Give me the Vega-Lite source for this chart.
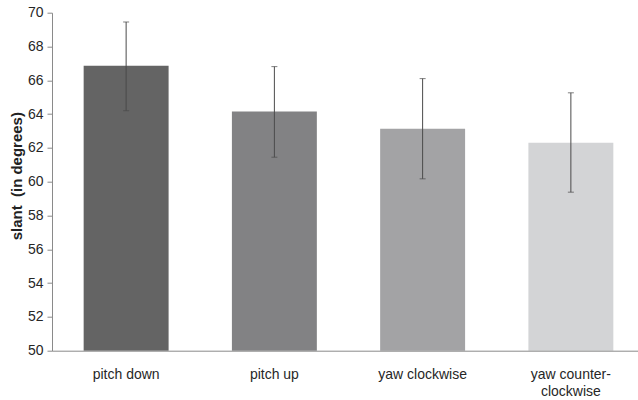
{
  "$schema": "https://vega.github.io/schema/vega-lite/v6.json",
  "autosize": {"type": "none"},
  "width": 593,
  "height": 338,
  "padding": {"left": 52, "top": 12.7, "right": 0, "bottom": 49},
  "background": "white",
  "config": {
    "view": {"stroke": null},
    "font": "Liberation Sans",
    "axis": {"grid": false, "domainColor": "#8a8a8a", "tickColor": "#8a8a8a", "labelColor": "#262626", "labelFontSize": 14, "labelFont": "Liberation Sans"}
  },
  "data": {
    "values": [
      {"condition": "pitch down", "slant": 66.86, "lo": 64.2, "hi": 69.45},
      {"condition": "pitch up", "slant": 64.15, "lo": 61.45, "hi": 66.81},
      {"condition": "yaw clockwise", "slant": 63.14, "lo": 60.17, "hi": 66.1},
      {"condition": "yaw counter-clockwise", "slant": 62.31, "lo": 59.38, "hi": 65.26}
    ]
  },
  "resolve": {"axis": {"y": "independent"}},
  "encoding": {
    "x": {
      "field": "condition", "type": "nominal", "sort": null,
      "scale": {"paddingInner": 0.427, "paddingOuter": 0.2135},
      "axis": {
        "title": null, "labelAngle": 0, "ticks": false, "labelPadding": 17,
        "labelExpr": "datum.label == 'yaw counter-clockwise' ? ['yaw counter-', 'clockwise'] : datum.label",
        "labelLineHeight": 17, "zindex": 1
      }
    }
  },
  "layer": [
    {
      "mark": {"type": "bar"},
      "encoding": {
        "y": {
          "field": "slant", "type": "quantitative",
          "scale": {"domain": [50, 70], "zero": false, "nice": false},
          "axis": {
            "values": [50, 52, 54, 56, 58, 60, 62, 64, 66, 68, 70],
            "labelOverlap": false,
            "tickSize": 5, "labelPadding": 4,
            "title": "slant\u00a0 (in degrees)", "titleFontSize": 15, "titleFontWeight": "bold",
            "titleColor": "#222222", "titleFont": "Liberation Sans",
            "titleX": -36, "titleY": 163, "titleAngle": -90, "titleBaseline": "middle", "titleAlign": "center"
          }
        },
        "y2": {"datum": 50},
        "color": {
          "field": "condition", "type": "nominal", "sort": null, "legend": null,
          "scale": {"range": ["#646464", "#828284", "#a3a3a5", "#d3d4d6"]}
        }
      }
    },
    {
      "mark": {"type": "rule", "color": "#4a4a4a", "strokeWidth": 1},
      "encoding": {
        "y": {"field": "lo", "type": "quantitative", "axis": null},
        "y2": {"field": "hi"}
      }
    },
    {
      "mark": {"type": "tick", "color": "#4a4a4a", "thickness": 1, "size": 6},
      "encoding": {"y": {"field": "lo", "type": "quantitative", "axis": null}}
    },
    {
      "mark": {"type": "tick", "color": "#4a4a4a", "thickness": 1, "size": 6},
      "encoding": {"y": {"field": "hi", "type": "quantitative", "axis": null}}
    }
  ]
}
